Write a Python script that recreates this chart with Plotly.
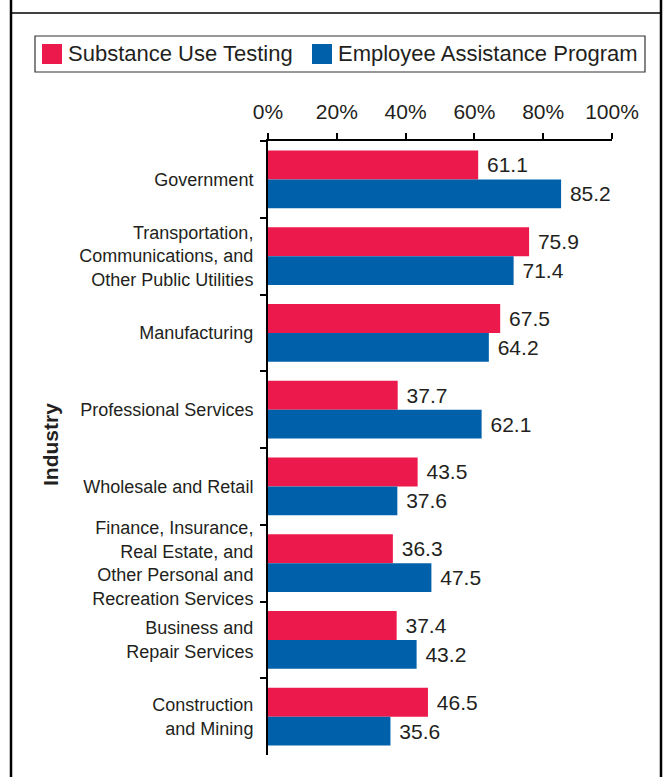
import plotly.graph_objects as go

categories = [
    "Government",
    "Transportation,<br>Communications, and<br>Other Public Utilities",
    "Manufacturing",
    "Professional Services",
    "Wholesale and Retail",
    "Finance, Insurance,<br>Real Estate, and<br>Other Personal and<br>Recreation Services",
    "Business and<br>Repair Services",
    "Construction<br>and Mining",
]
substance_use_testing = [61.1, 75.9, 67.5, 37.7, 43.5, 36.3, 37.4, 46.5]
employee_assistance = [85.2, 71.4, 64.2, 62.1, 37.6, 47.5, 43.2, 35.6]
series_names = ["Substance Use Testing", "Employee Assistance Program"]
x_tick_vals = [0, 20, 40, 60, 80, 100]
x_tick_text = ["0%", "20%", "40%", "60%", "80%", "100%"]

RED = "#EC1A4C"
BLUE = "#0061AA"
INK = "#231F20"
FONT = "Liberation Sans, Arial, Helvetica, sans-serif"

W, H = 667, 777
ML, MR, MT, MB = 268, 55, 141, 22
PW = W - ML - MR
PH = H - MT - MB


def px(xp):
    return (xp - ML) / PW


def py(yp):
    return 1 - (yp - MT) / PH


fig = go.Figure()
fig.add_trace(go.Bar(
    y=categories, x=substance_use_testing, orientation="h", name=series_names[0],
    marker=dict(color=RED, line=dict(width=0)),
    texttemplate=" %{x:.1f}", textposition="outside", cliponaxis=False,
    textfont=dict(family=FONT, size=21, color=INK), showlegend=False,
))
fig.add_trace(go.Bar(
    y=categories, x=employee_assistance, orientation="h", name=series_names[1],
    marker=dict(color=BLUE, line=dict(width=0)),
    texttemplate=" %{x:.1f}", textposition="outside", cliponaxis=False,
    textfont=dict(family=FONT, size=21, color=INK), showlegend=False,
))

shapes = []
# outer frame (cropped)
shapes.append(dict(type="line", xref="paper", yref="paper", x0=px(11), x1=px(11), y0=py(0), y1=py(H),
                   line=dict(color="#000", width=2.5)))
shapes.append(dict(type="line", xref="paper", yref="paper", x0=px(661), x1=px(661), y0=py(0), y1=py(H),
                   line=dict(color="#000", width=2.5)))
shapes.append(dict(type="line", xref="paper", yref="paper", x0=px(11), x1=px(661), y0=py(13), y1=py(13),
                   line=dict(color="#000", width=1.5)))
# legend box
shapes.append(dict(type="rect", xref="paper", yref="paper", x0=px(35), x1=px(645), y0=py(36), y1=py(72),
                   line=dict(color="#333", width=1.2), fillcolor="rgba(0,0,0,0)"))
shapes.append(dict(type="rect", xref="paper", yref="paper", x0=px(42), x1=px(62), y0=py(44), y1=py(64),
                   line=dict(width=0), fillcolor=RED))
shapes.append(dict(type="rect", xref="paper", yref="paper", x0=px(312), x1=px(332), y0=py(44), y1=py(64),
                   line=dict(width=0), fillcolor=BLUE))

annotations = [
    dict(xref="paper", yref="paper", x=px(66), y=py(54), text=series_names[0], showarrow=False,
         xanchor="left", yanchor="middle", font=dict(family=FONT, size=22, color=INK)),
    dict(xref="paper", yref="paper", x=px(336), y=py(54), text=series_names[1], showarrow=False,
         xanchor="left", yanchor="middle", font=dict(family=FONT, size=22, color=INK)),
    dict(xref="paper", yref="paper", x=px(50), y=py(445), text="<b>Industry</b>", showarrow=False,
         textangle=-90, xanchor="center", yanchor="middle", font=dict(family=FONT, size=21, color=INK)),
]

fig.update_layout(
    width=W, height=H,
    margin=dict(l=ML, r=MR, t=MT, b=MB, pad=0),
    paper_bgcolor="white", plot_bgcolor="white",
    barmode="group", bargap=0.245, bargroupgap=0,
    showlegend=False,
    shapes=shapes, annotations=annotations,
    font=dict(family=FONT, color=INK),
)
fig.update_xaxes(
    side="top", range=[0, 100], tickvals=x_tick_vals, ticktext=x_tick_text,
    showgrid=False, zeroline=False, showline=True, linecolor="#000", linewidth=2,
    ticks="outside", ticklen=6, tickwidth=1.5, tickcolor="#000",
    tickfont=dict(family=FONT, size=21, color=INK), ticklabelstandoff=6,
)
fig.update_yaxes(
    autorange="reversed", showgrid=False, zeroline=False,
    showline=True, linecolor="#000", linewidth=2,
    ticks="outside", tickson="boundaries", ticklen=6, tickwidth=1.5, tickcolor="#000",
    tickfont=dict(family=FONT, size=18, color=INK), ticklabelstandoff=9,
)

fig.write_html("out.html")
